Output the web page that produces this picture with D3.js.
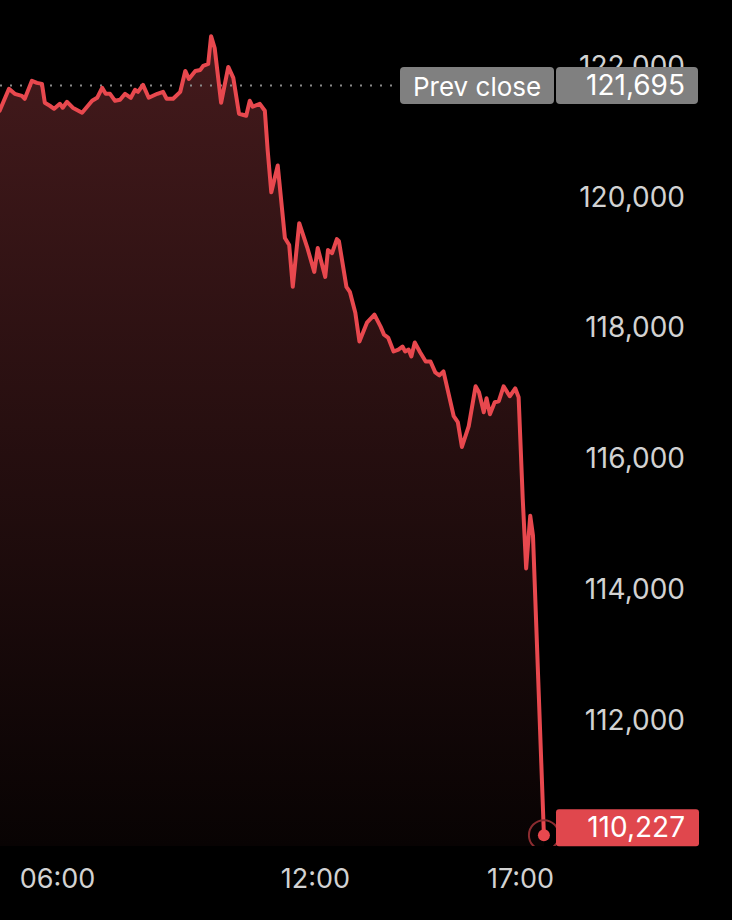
<!DOCTYPE html>
<html>
<head>
<meta charset="utf-8">
<script src="https://cdn.jsdelivr.net/npm/d3@7"></script>
<style>
  html, body { margin: 0; padding: 0; background: #000; }
  svg { display: block; }
  text { font-family: Inter, "Noto Sans", sans-serif; }
</style>
</head>
<body>
<svg id="chart" width="732" height="920"></svg>
<script>
// ---- data ----
const times = ["04:40","04:53","05:01","05:11","05:15","05:25","05:32","05:39","05:43","05:50",
  "05:56","06:04","06:08","06:14","06:22","06:35","06:49","06:56","07:03","07:08",
  "07:14","07:21","07:28","07:35","07:43","07:49","07:53","08:00","08:08","08:20",
  "08:28","08:33","08:42","08:52","08:59","09:04","09:13","09:20","09:24","09:31",
  "09:35","09:40","09:49","09:59","10:06","10:14","10:24","10:29","10:33","10:43",
  "10:50","10:54","10:59","11:08","11:18","11:24","11:29","11:38","11:49","11:59",
  "12:04","12:15","12:19","12:25","12:32","12:35","12:46","12:51","12:59","13:05",
  "13:16","13:27","13:36","13:41","13:47","13:55","14:02","14:08","14:12","14:17",
  "14:21","14:26","14:34","14:42","14:49","14:56","15:02","15:08","15:23","15:29",
  "15:35","15:45","15:55","16:00","16:07","16:11","16:16","16:23","16:29","16:36",
  "16:45","16:53","16:58","17:04","17:09","17:15","17:19","17:35"];
const prices = [121310,121644,121568,121537,121492,121766,121735,121720,121431,121385,
  121339,121415,121355,121446,121355,121278,121461,121507,121659,121568,
  121568,121461,121476,121568,121507,121629,121598,121705,121507,121568,
  121598,121492,121492,121598,121918,121796,121918,121933,121994,122024,
  122450,122268,121431,121979,121811,121263,121233,121461,121370,121415,
  121309,120700,120061,120472,119361,119254,118615,119589,119224,118843,
  119209,118767,119178,119132,119346,119315,118615,118539,118219,117778,
  118067,118189,118006,117884,117839,117626,117656,117702,117626,117656,
  117550,117763,117610,117473,117473,117306,117260,117321,116636,116545,
  116165,116484,117093,117002,116697,116910,116667,116849,116865,117093,
  116941,117063,116926,115373,114308,115114,114810,110227];
const yTicks = [112000,114000,116000,118000,120000,122000];
const xTicks = ["06:00","12:00","17:00"];
const prevClose = 121695;
const prevCloseLabel = "Prev close";
const lastPrice = 110227;

// ---- setup ----
const parse = d3.timeParse("%H:%M");
const data = times.map((t, i) => ({ t: parse(t), v: prices[i] }));
const svg = d3.select("#chart");
const W = 732, plotBottom = 846;

const x = d3.scaleTime()
  .domain(xTicks.map(parse))
  .range([57, 315, 520]);
const y = d3.scaleLinear().domain([110000, 120000]).range([850, 196.3]);

const fmt = d3.format(",");
const lineColor = "#e8484e";
const axisColor = "#d2d2d2";

const defs = svg.append("defs");
const grad = defs.append("linearGradient").attr("id", "fillGrad")
  .attr("gradientUnits", "userSpaceOnUse")
  .attr("x1", 0).attr("x2", 0).attr("y1", 35).attr("y2", plotBottom);
grad.append("stop").attr("offset", 0).attr("stop-color", "#441a1c");
grad.append("stop").attr("offset", 1).attr("stop-color", "#080303");
defs.append("clipPath").attr("id", "plotClip")
  .append("rect").attr("x", 0).attr("y", 0).attr("width", W).attr("height", plotBottom);

// area
svg.append("path").datum(data)
  .attr("fill", "url(#fillGrad)")
  .attr("d", d3.area().x(d => x(d.t)).y0(plotBottom).y1(d => y(d.v)));

// prev close dotted line
svg.append("line")
  .attr("x1", 0).attr("x2", 400)
  .attr("y1", y(prevClose)).attr("y2", y(prevClose))
  .attr("stroke", "#8a8a8a").attr("stroke-width", 2)
  .attr("stroke-dasharray", "2,8");

// line
svg.append("path").datum(data)
  .attr("fill", "none")
  .attr("stroke", lineColor)
  .attr("stroke-width", 4)
  .attr("stroke-linejoin", "round")
  .attr("stroke-linecap", "round")
  .attr("d", d3.line().x(d => x(d.t)).y(d => y(d.v)));

// y axis
const yAxis = svg.append("g").attr("transform", "translate(685,0)")
  .call(d3.axisLeft(y).tickValues(yTicks).tickFormat(fmt).tickSize(0).tickPadding(0));
yAxis.select(".domain").remove();
yAxis.selectAll("text")
  .attr("fill", axisColor).attr("font-size", 28).attr("font-family", "Inter, sans-serif")
  .attr("text-anchor", "end").attr("dy", "0.35em");

// x axis
const xAxis = svg.append("g").attr("transform", "translate(0,878.5)")
  .call(d3.axisBottom(x).tickValues(xTicks.map(parse)).tickFormat(d3.timeFormat("%H:%M")).tickSize(0).tickPadding(0));
xAxis.select(".domain").remove();
xAxis.selectAll("text")
  .attr("fill", axisColor).attr("font-size", 27).attr("font-family", "Inter, sans-serif")
  .attr("dy", "0.35em");

// prev close label
const py = y(prevClose);
svg.append("rect").attr("x", 400).attr("y", py - 18.5).attr("width", 154).attr("height", 37)
  .attr("rx", 4).attr("fill", "#808080");
svg.append("rect").attr("x", 556).attr("y", py - 18.5).attr("width", 142).attr("height", 37)
  .attr("rx", 4).attr("fill", "#808080");
svg.append("text").attr("x", 413).attr("y", py + 1).attr("dy", "0.35em")
  .attr("fill", "#fff").attr("font-size", 26).text(prevCloseLabel);
svg.append("text").attr("x", 685).attr("y", py).attr("dy", "0.35em")
  .attr("text-anchor", "end").attr("fill", "#fff").attr("font-size", 28).text(fmt(prevClose));

// end marker
const last = data[data.length - 1];
const ex = x(last.t), ey = y(last.v);
svg.append("circle").attr("clip-path", "url(#plotClip)")
  .attr("cx", ex).attr("cy", ey).attr("r", 15)
  .attr("fill", "none").attr("stroke", "#8c2c30").attr("stroke-width", 2);
svg.append("circle").attr("cx", ex).attr("cy", ey).attr("r", 6).attr("fill", lineColor);

// last price label
svg.append("rect").attr("x", 556).attr("y", ey - 26).attr("width", 143).attr("height", 37)
  .attr("rx", 3).attr("fill", "#e0474d");
svg.append("text").attr("x", 685).attr("y", ey - 8).attr("dy", "0.35em")
  .attr("text-anchor", "end").attr("fill", "#fff").attr("font-size", 28).text(fmt(lastPrice));
</script>
</body>
</html>
